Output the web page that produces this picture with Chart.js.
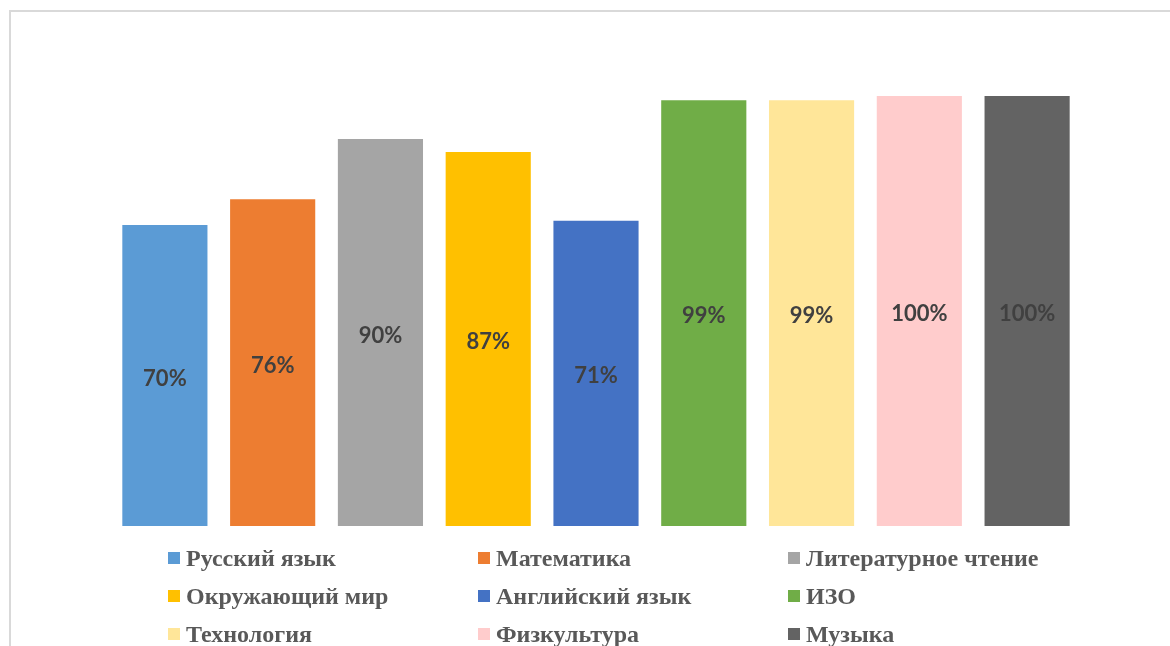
<!DOCTYPE html>
<html>
<head>
<meta charset="utf-8">
<script src="https://cdn.jsdelivr.net/npm/chart.js@4"></script>
<style>
  html, body { margin: 0; padding: 0; background: #fff; }
  #wrap { position: relative; width: 1170px; height: 646px; overflow: hidden; }
  #frame { position: absolute; left: 9px; top: 10px; width: 1200px; height: 700px; border: 2px solid #d9d9d9; box-sizing: border-box; }
  #c { position: absolute; left: 0; top: 0; }
  #legend { position: absolute; left: 0; top: 0; width: 1170px; height: 646px; pointer-events: none; }
  .item { position: absolute; display: flex; align-items: center; font-family: "Liberation Serif", "Times New Roman", serif; font-weight: bold; font-size: 24px; color: #595959; white-space: nowrap; }
  .box { width: 12px; height: 12px; margin-right: 6px; }
</style>
</head>
<body>
<div id="wrap">
  <div id="frame"></div>
  <canvas id="c" width="1170" height="646"></canvas>
  <div id="legend"></div>
</div>
<script>
const categories = ["Русский язык", "Математика", "Литературное чтение", "Окружающий мир", "Английский язык", "ИЗО", "Технология", "Физкультура", "Музыка"];
const values = [70, 76, 90, 87, 71, 99, 99, 100, 100];
const colors = ["#5B9BD5", "#ED7D31", "#A5A5A5", "#FFC000", "#4472C4", "#70AD47", "#FFE699", "#FFCCCC", "#636363"];

const labelPlugin = {
  id: 'barLabels',
  afterDatasetsDraw(chart) {
    const ctx = chart.ctx;
    const meta = chart.getDatasetMeta(0);
    ctx.save();
    ctx.font = 'bold 22px Lato, "Open Sans", sans-serif';
    ctx.fillStyle = '#404040';
    ctx.textAlign = 'center';
    ctx.textBaseline = 'middle';
    meta.data.forEach((bar, i) => {
      const p = bar.getProps(['x', 'y', 'base'], true);
      ctx.fillText(values[i] + '%', p.x, (p.y + p.base) / 2 + 3);
    });
    ctx.restore();
  }
};

const chart = new Chart(document.getElementById('c'), {
  type: 'bar',
  data: {
    labels: categories,
    datasets: [{ data: values, backgroundColor: colors, borderWidth: 0, categoryPercentage: 1, barPercentage: 0.79 }]
  },
  options: {
    responsive: false,
    animation: false,
    devicePixelRatio: 1,
    layout: { padding: { left: 111, right: 89, top: 96, bottom: 120 } },
    plugins: { legend: { display: false }, tooltip: { enabled: false } },
    scales: {
      x: { display: false },
      y: { display: false, min: 0, max: 100 }
    }
  },
  plugins: [labelPlugin]
});

const legend = document.getElementById('legend');
const colX = [168, 478, 788];
const rowY = [558, 596, 634];
categories.forEach((name, i) => {
  const el = document.createElement('div');
  el.className = 'item';
  el.style.left = colX[i % 3] + 'px';
  el.style.top = (rowY[Math.floor(i / 3)] - 14) + 'px';
  el.style.height = '28px';
  const b = document.createElement('span');
  b.className = 'box';
  b.style.background = colors[i];
  const t = document.createElement('span');
  t.textContent = name;
  el.appendChild(b);
  el.appendChild(t);
  legend.appendChild(el);
});
</script>
</body>
</html>
